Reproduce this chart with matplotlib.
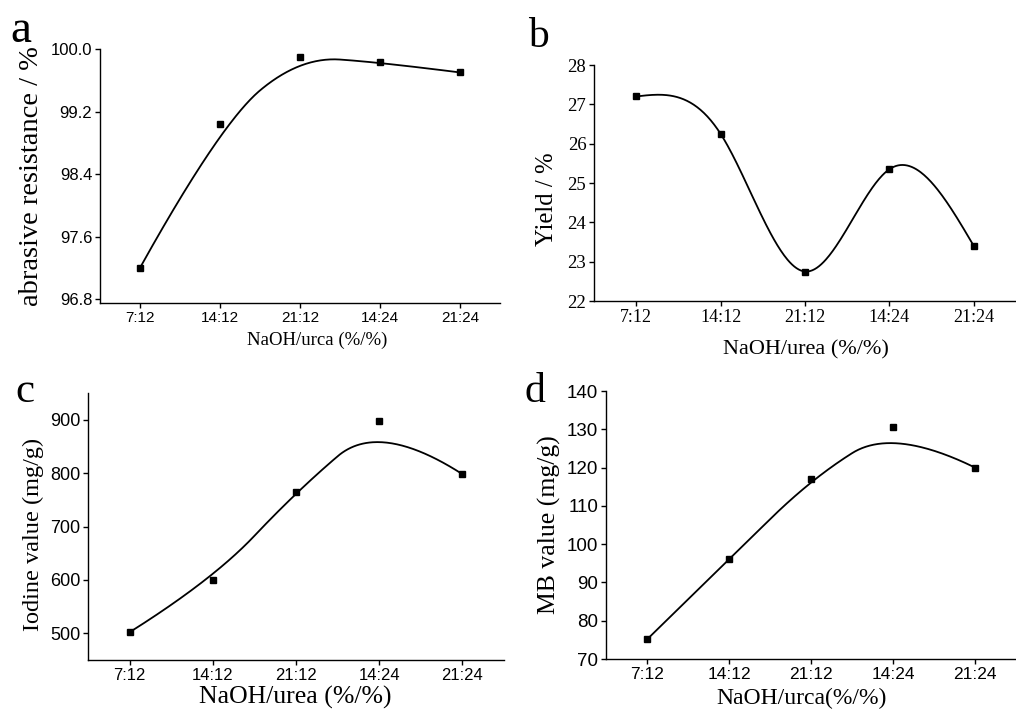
import numpy as np
import matplotlib
matplotlib.use('Agg')
import matplotlib.pyplot as plt

# NaOH/urea ratio categories (same for all four panels)
ratios = ['7:12', '14:12', '21:12', '14:24', '21:24']

# values
abrasion = [97.2, 99.04, 99.90, 99.83, 99.70]
yield_pct = [27.2, 26.25, 22.75, 25.35, 23.4]
iodine = [502, 600, 765, 898, 798]
mb_value = [75.1, 96.0, 117.0, 130.5, 120.0]

serif = ['Liberation Serif', 'DejaVu Serif']
sans = ['Liberation Sans', 'DejaVu Sans']


# clamped B-spline with the data points as control points
def bspline(px, py, k=2, n=300):
    px = np.asarray(px, float)
    py = np.asarray(py, float)
    m = len(px)
    inner = np.linspace(0, 1, m - k + 1)[1:-1]
    knots = np.concatenate([np.zeros(k + 1), inner, np.ones(k + 1)])
    t = np.linspace(0, 1, n)
    t[-1] = 1 - 1e-12
    # degree 0
    B = np.zeros((len(knots) - 1, n))
    for i in range(len(knots) - 1):
        B[i] = (t >= knots[i]) & (t < knots[i + 1])
    for d in range(1, k + 1):
        Bn = np.zeros((len(knots) - 1 - d, n))
        for i in range(len(knots) - 1 - d):
            a = knots[i + d] - knots[i]
            b = knots[i + d + 1] - knots[i + 1]
            left = (t - knots[i]) / a * B[i] if a > 0 else 0
            right = (knots[i + d + 1] - t) / b * B[i + 1] if b > 0 else 0
            Bn[i] = left + right
        B = Bn
    return B.T @ px, B.T @ py


# natural cubic spline through the points (unit spacing)
def natural_spline(py, n=300):
    y = np.asarray(py, float)
    m = len(y)
    A = np.zeros((m - 2, m - 2))
    rhs = np.zeros(m - 2)
    for i in range(1, m - 1):
        A[i - 1, i - 1] = 4
        if i > 1:
            A[i - 1, i - 2] = 1
        if i < m - 2:
            A[i - 1, i] = 1
        rhs[i - 1] = 6 * (y[i + 1] - 2 * y[i] + y[i - 1])
    M = np.zeros(m)
    M[1:-1] = np.linalg.solve(A, rhs)
    xs = np.linspace(0, m - 1, n)
    ys = np.zeros(n)
    for j, x in enumerate(xs):
        i = min(int(x), m - 2)
        s = x - i
        ys[j] = (M[i] * (1 - s) ** 3 / 6 + M[i + 1] * s ** 3 / 6
                 + (y[i] - M[i] / 6) * (1 - s) + (y[i + 1] - M[i + 1] / 6) * s)
    return xs, ys


fig = plt.figure(figsize=(10.16, 7.13), dpi=100)

W, H = 1016, 713


def add_axes(left, right, top, bottom):
    return fig.add_axes([left / W, 1 - bottom / H, (right - left) / W, (bottom - top) / H])


ax_a = add_axes(100, 500, 49, 303)
ax_b = add_axes(594, 1016, 65, 301)
ax_c = add_axes(88, 504, 393, 660)
ax_d = add_axes(606, 1016, 391, 659)

x = np.arange(len(ratios))

panels = [
    (ax_a, abrasion, 'bspline', (96.75, 100.0), [96.8, 97.6, 98.4, 99.2, 100.0], '{:.1f}',
     'abrasive resistance / %', 'NaOH/urca (%/%)', sans, 12, 11, 20.5, 13.5,
     (-0.17, 0.50), (0.5425, -0.146)),
    (ax_b, yield_pct, 'natural', (22, 28), [22, 23, 24, 25, 26, 27, 28], '{:d}',
     'Yield / %', 'NaOH/urea (%/%)', serif, 13.5, 13, 17.8, 16,
     (-0.111, 0.43), (0.502, -0.205)),
    (ax_c, iodine, 'bspline', (450, 950), [500, 600, 700, 800, 900], '{:d}',
     'Iodine value (mg/g)', 'NaOH/urea (%/%)', sans, 13, 12, 17.5, 18.5,
     (-0.132, 0.472), (0.498, -0.142)),
    (ax_d, mb_value, 'bspline', (70, 140), [70, 80, 90, 100, 110, 120, 130, 140], '{:d}',
     'MB value (mg/g)', 'NaOH/urca(%/%)', sans, 13.5, 12.5, 18.5, 17,
     (-0.139, 0.50), (0.476, -0.146)),
]

for (ax, vals, fit, ylim, yticks, fmt, ylab, xlab, tickfont, ytsize, xtsize,
     ylsize, xlsize, ypos, xpos) in panels:
    if fit == 'bspline':
        cx, cy = bspline(x, vals)
    else:
        cx, cy = natural_spline(vals)
    ax.plot(cx, cy, color='black', lw=1.3, zorder=2)
    ax.plot(x, vals, 's', color='black', ms=4.5, zorder=3)

    ax.set_xlim(-0.5, 4.5)
    ax.set_ylim(*ylim)
    ax.set_xticks(x)
    ax.set_xticklabels(ratios, family=tickfont, fontsize=xtsize)
    ax.set_yticks(yticks)
    ax.set_yticklabels([fmt.format(v) for v in yticks], family=tickfont, fontsize=ytsize)

    for s in ['top', 'right']:
        ax.spines[s].set_visible(False)
    for s in ['left', 'bottom']:
        ax.spines[s].set_linewidth(1.0)
    ax.tick_params(direction='out', length=3.5, width=1.0, pad=2)

    ax.set_ylabel(ylab, family=serif, fontsize=ylsize, va='center')
    ax.yaxis.set_label_coords(*ypos)
    ax.set_xlabel(xlab, family=serif, fontsize=xlsize, va='center')
    ax.xaxis.set_label_coords(*xpos)

# panel letters
fig.text(10 / W, 1 - 42 / H, 'a', family=serif, fontsize=34, ha='left', va='baseline')
fig.text(528 / W, 1 - 47 / H, 'b', family=serif, fontsize=30, ha='left', va='baseline')
fig.text(15 / W, 1 - 402 / H, 'c', family=serif, fontsize=31, ha='left', va='baseline')
fig.text(525 / W, 1 - 402 / H, 'd', family=serif, fontsize=30, ha='left', va='baseline')

fig.savefig('out.png', dpi=100)
